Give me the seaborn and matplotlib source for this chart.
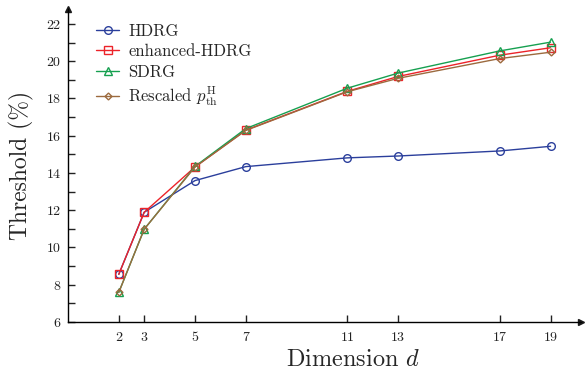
import matplotlib
matplotlib.use("Agg")
import matplotlib.pyplot as plt
import seaborn as sns
import pandas as pd

dims = [2, 3, 5, 7, 11, 13, 17, 19]
hdrg = [8.56, 11.89, 13.59, 14.34, 14.81, 14.91, 15.18, 15.43]
enhanced_hdrg = [8.56, 11.89, 14.32, 16.30, 18.38, 19.18, 20.32, 20.72]
sdrg = [7.59, 10.98, 14.35, 16.38, 18.55, 19.36, 20.55, 21.02]
rescaled = [7.59, 10.98, 14.32, 16.28, 18.36, 19.08, 20.14, 20.48]

labels = ["HDRG", "enhanced-HDRG", "SDRG", r"Rescaled $p_{\mathrm{th}}^{\mathrm{H}}$"]
colors = ["#2b3f9c", "#ec2329", "#16a050", "#9c6a3e"]
markers = ["o", "s", "^", "D"]
msizes = [5.5, 5.5, 5.5, 3.5]
series = [hdrg, enhanced_hdrg, sdrg, rescaled]

sns.set_theme(style="ticks")
plt.rcParams["font.family"] = ["cmr10", "DejaVu Serif"]
plt.rcParams["mathtext.fontset"] = "cm"
plt.rcParams["axes.formatter.use_mathtext"] = True

fig = plt.figure(figsize=(5.86, 3.71), dpi=100)
ax = fig.add_axes([68/586, 1-322/371, (581-68)/586, (322-9)/371])

for lab, vals, c, m, ms in zip(labels, series, colors, markers, msizes):
    df = pd.DataFrame({"d": dims, "v": vals})
    sns.lineplot(data=df, x="d", y="v", ax=ax, color=c, marker=m, markersize=ms,
                 markerfacecolor="none", markeredgecolor=c, markeredgewidth=1.0,
                 linewidth=1.0, label=lab)

ax.set_xlim(0, 20.2)
ax.set_ylim(6, 22.8)
ax.set_xticks(dims)
ax.set_xticklabels([str(d) for d in dims])
ax.set_yticks(range(6, 23, 2))
ax.set_yticks(range(7, 23, 2), minor=True)
ax.tick_params(axis="both", which="both", direction="in", labelsize=10, colors="#222222")
ax.tick_params(axis="both", which="major", length=5, width=1)
ax.tick_params(axis="y", which="minor", length=5, width=1)
ax.tick_params(axis="x", pad=7)
ax.tick_params(axis="y", pad=5)

for s in ["top", "right"]:
    ax.spines[s].set_visible(False)
for s in ["left", "bottom"]:
    ax.spines[s].set_linewidth(1.0)
    ax.spines[s].set_color("black")

ax.plot(1, 0, ">k", transform=ax.transAxes, clip_on=False, markersize=5)
ax.plot(0, 1, "^k", transform=ax.transAxes, clip_on=False, markersize=5)

ax.set_xlabel(r"Dimension $d$", fontsize=17.5)
ax.xaxis.set_label_coords((353 - 68) / 513, (322 - 349) / 313)
ax.set_ylabel(r"Threshold (%)", fontsize=17, labelpad=8)

leg = ax.legend(loc="upper left", bbox_to_anchor=(0.035, 0.985), frameon=False,
                fontsize=12, handlelength=1.4, handletextpad=0.55, labelspacing=0.3,
                borderaxespad=0.2)

fig.savefig("out.png", dpi=100)
